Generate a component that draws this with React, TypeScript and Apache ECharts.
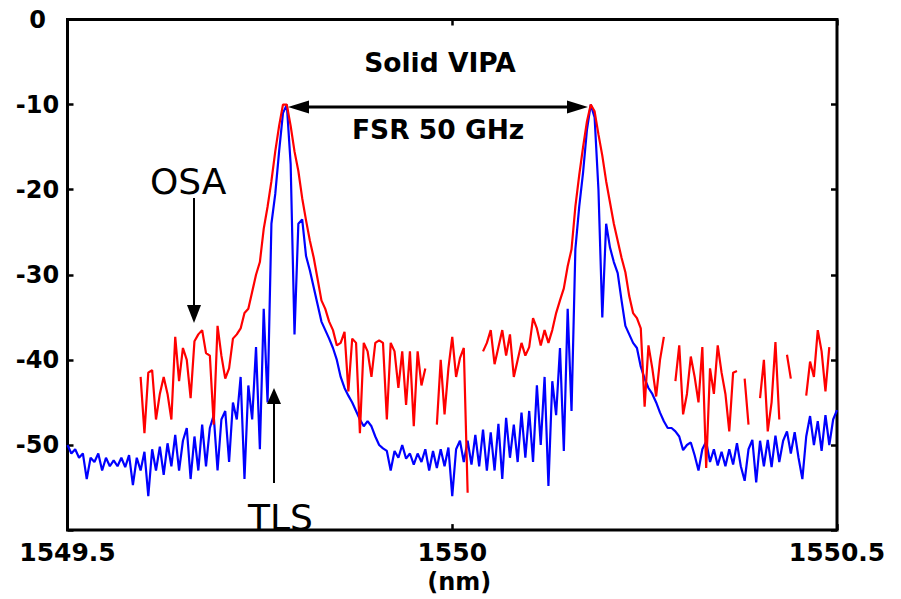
import React, { useEffect, useRef } from "react";
import * as echarts from "echarts";

// Wavelength sampling of both traces (nm)
const WL_START = 1549.5;
const WL_STEP = 0.005;

// TLS trace (blue), dBm, one value per sample from 1549.5 nm
const tlsValues: number[] = [
  -50, -51, -50.5, -51.5, -51, -54, -51.5, -52, -51, -53,
  -51.5, -52.5, -51.8, -52.5, -51.5, -52.6, -51.2, -54.7, -51.5, -53,
  -50.8, -56, -50.5, -53, -50.2, -53.5, -49.8, -52.5, -48.8, -53,
  -49.5, -48, -54, -49, -53, -47.6, -52.5, -48, -46.5, -53,
  -47, -46, -52, -45, -47, -42, -54, -43, -47, -38.5,
  -50.5, -34, -45, -24, -20.5, -15.5, -11, -10, -17, -37,
  -24, -23.5, -27.8, -29.5, -31.5, -33.5, -35.5, -36.5, -37.5, -38.6,
  -40, -42, -43.3, -44.2, -45, -46, -47, -47.8, -47.2, -47.8,
  -49, -50, -50.4, -50.7, -53, -50.7, -51.5, -50, -51.6, -51,
  -52.3, -51, -52, -50.5, -53, -50.7, -52.7, -50.5, -52.5, -50.3,
  -56, -50.5, -49.5, -52, -49.5, -52.3, -48.8, -52.5, -48.2, -53,
  -48.5, -53, -47.5, -54, -46.8, -51.5, -47.6, -52, -46.2, -51.5,
  -46, -52, -43, -50, -42, -54.8, -42.5, -46.5, -38.6, -50.7,
  -34, -46, -27, -22, -18, -13, -10, -11.5, -20, -35,
  -24, -26.8, -28.5, -29.8, -33, -36, -37, -38, -38.6, -40.8,
  -42.2, -43.3, -44, -45, -46.2, -47.2, -48, -48, -48.4, -49,
  -50.6, -50, -49.7, -51.2, -53, -50.5, -49.6, -52, -50.5, -52.4,
  -50.8, -52.5, -50.5, -52.3, -49.8, -52.5, -54.2, -50.5, -49.4, -54.4,
  -49.5, -52.5, -49.4, -52.6, -48.9, -52, -49.5, -48.4, -51, -48.5,
  -51.5, -54, -49, -46.6, -50, -47.2, -50.7, -46.5, -50, -47,
  -45.9,
];

// OSA trace (red): starts at sample index 19, null = no reading
const OSA_START_INDEX = 19;
const osaValues: (number | null)[] = [
  -42, -48.6, -41.5, -41.2, -47, -44, -42, -44, -47, -37.3,
  -42.5, -38.6, -40, -44.5, -37.8, -37, -36.5, -39.2, -39.5, -47.6,
  -36, -39.5, -42.2, -41, -37.5, -37, -36.3, -34.5, -34, -32,
  -30, -28.5, -24.6, -22, -19, -15.5, -12.5, -10, -10, -12.5,
  -15.5, -17.8, -21, -23.6, -26, -28, -30.5, -33, -34, -35.5,
  -36.5, -38.3, -38, -36.7, -43.7, -37.5, -38, -48.6, -38, -39,
  -42, -38, -37.7, -38, -47, -38, -39, -43.3, -39, -45.3,
  -39, -47.8, -39, -43, -41, null, null, -47.6, -40, -46.4,
  -41, -37.3, -42, -39.8, -38.6, -55.6, null, null, null, -39,
  -38, -36.5, -40.5, -38.5, -36.5, -39.5, -37, -42, -40, -38,
  -39.5, -38.5, -35.1, -36.3, -38.3, -36.5, -38, -36.5, -34.5, -33,
  -31.6, -29, -27, -22, -18.3, -15, -12, -10, -10.8, -13.5,
  -16, -19, -21.5, -24, -26, -28, -29.7, -32.5, -34.5, -35.1,
  -36.3, -45.5, -38.3, -41, -44.3, -40, -37.3, null, null, -42.5,
  -38.3, -46.4, -44, -39.6, -42, -45, -38.5, -52.7, -41, -44,
  -38.3, -41.5, -44, -48.4, -41.5, -41.3, null, -42.2, -47.6, null,
  null, -44.5, -40, -48.4, -45, -37.9, -47, null, -39.4, -42.2,
  null, null, null, -44.2, -40.2, -42, -36.5, -39, -43.7, -38.5,
];

const X_MIN = 1549.5;
const X_MAX = 1550.5;
const X_INTERVAL = 0.5;
const Y_MIN = -60;
const Y_MAX = 0;
const Y_INTERVAL = 10;

const LABEL_FONT = "DejaVu Sans";

export default function App() {
  const ref = useRef<HTMLDivElement>(null);

  useEffect(() => {
    if (!ref.current) return;
    const chart = echarts.init(ref.current, null, { renderer: "svg" });

    const tlsData = tlsValues.map((v, i) => [WL_START + i * WL_STEP, v]);
    const osaData = osaValues.map((v, i) => [
      WL_START + (OSA_START_INDEX + i) * WL_STEP,
      v,
    ]);

    const tickStyle = { inside: true, length: 6, lineStyle: { color: "#000", width: 2.5 } };
    const labelStyle = {
      color: "#000",
      fontFamily: LABEL_FONT,
      fontWeight: "bold" as const,
      fontSize: 24,
    };

    chart.setOption({
      animation: false,
      backgroundColor: "#fff",
      grid: {
        left: 67.5,
        top: 19.5,
        right: 64,
        bottom: 65.5,
        show: true,
        borderColor: "#000",
        borderWidth: 3,
        backgroundColor: "transparent",
      },
      xAxis: [
        {
          type: "value",
          position: "bottom",
          min: X_MIN,
          max: X_MAX,
          interval: X_INTERVAL,
          axisLine: { show: false, onZero: false },
          axisTick: tickStyle,
          splitLine: { show: false },
          axisLabel: {
            ...labelStyle,
            fontSize: 25,
            margin: 10,
            showMinLabel: true,
            showMaxLabel: true,
            formatter: (v: number) => String(v),
          },
          name: "(nm)",
          nameLocation: "middle",
          nameGap: 37,
          nameTextStyle: { ...labelStyle, padding: [0, 0, 0, 14] },
        },
        {
          type: "value",
          position: "top",
          min: X_MIN,
          max: X_MAX,
          interval: X_INTERVAL,
          axisLine: { show: false, onZero: false },
          axisTick: tickStyle,
          splitLine: { show: false },
          axisLabel: { show: false },
        },
      ],
      yAxis: [
        {
          type: "value",
          position: "left",
          min: Y_MIN,
          max: Y_MAX,
          interval: Y_INTERVAL,
          axisLine: { show: false, onZero: false },
          axisTick: tickStyle,
          splitLine: { show: false },
          axisLabel: {
            ...labelStyle,
            align: "center",
            margin: 30,
            formatter: (v: number) => (v === Y_MIN ? "" : String(v)),
          },
        },
        {
          type: "value",
          position: "right",
          min: Y_MIN,
          max: Y_MAX,
          interval: Y_INTERVAL,
          axisLine: { show: false, onZero: false },
          axisTick: tickStyle,
          splitLine: { show: false },
          axisLabel: { show: false },
        },
      ],
      series: [
        {
          name: "TLS",
          type: "line",
          data: tlsData,
          showSymbol: false,
          lineStyle: { color: "#0000ff", width: 2.2 },
          itemStyle: { color: "#0000ff" },
        },
        {
          name: "OSA",
          type: "line",
          data: osaData,
          showSymbol: false,
          connectNulls: false,
          lineStyle: { color: "#ff0000", width: 2.2 },
          itemStyle: { color: "#ff0000" },
        },
      ],
      graphic: [
        {
          type: "text",
          x: 440,
          y: 62,
          z: 100,
          style: {
            text: "Solid VIPA",
            fill: "#000",
            font: `bold 26.5px "${LABEL_FONT}"`,
            textAlign: "center",
            textVerticalAlign: "middle",
          },
        },
        {
          type: "text",
          x: 352,
          y: 129,
          z: 100,
          style: {
            text: "FSR 50 GHz",
            fill: "#000",
            font: `bold 26.5px "${LABEL_FONT}"`,
            textAlign: "left",
            textVerticalAlign: "middle",
          },
        },
        {
          type: "line",
          z: 100,
          shape: { x1: 305, y1: 107, x2: 571, y2: 107 },
          style: { stroke: "#000", lineWidth: 3 },
        },
        {
          type: "polygon",
          z: 100,
          shape: { points: [[288, 107], [309, 100.5], [309, 113.5]] },
          style: { fill: "#000" },
        },
        {
          type: "polygon",
          z: 100,
          shape: { points: [[588, 107], [567, 100.5], [567, 113.5]] },
          style: { fill: "#000" },
        },
        {
          type: "text",
          x: 150,
          y: 181,
          z: 100,
          style: {
            text: "OSA",
            fill: "#000",
            font: `36px "${LABEL_FONT}"`,
            textAlign: "left",
            textVerticalAlign: "middle",
          },
        },
        {
          type: "line",
          z: 100,
          shape: { x1: 194, y1: 198, x2: 194, y2: 308 },
          style: { stroke: "#000", lineWidth: 2 },
        },
        {
          type: "polygon",
          z: 100,
          shape: { points: [[194, 323], [187, 305], [201, 305]] },
          style: { fill: "#000" },
        },
        {
          type: "text",
          x: 248,
          y: 517,
          z: 100,
          style: {
            text: "TLS",
            fill: "#000",
            font: `36px "${LABEL_FONT}"`,
            textAlign: "left",
            textVerticalAlign: "middle",
          },
        },
        {
          type: "line",
          z: 100,
          shape: { x1: 274, y1: 483, x2: 274, y2: 401 },
          style: { stroke: "#000", lineWidth: 2 },
        },
        {
          type: "polygon",
          z: 100,
          shape: { points: [[274, 388], [267, 404], [281, 404]] },
          style: { fill: "#000" },
        },
      ],
    });

    return () => {
      chart.dispose();
    };
  }, []);

  return (
    <div
      ref={ref}
      style={{ position: "fixed", left: 0, top: 0, width: "100%", height: "100%" }}
    />
  );
}
